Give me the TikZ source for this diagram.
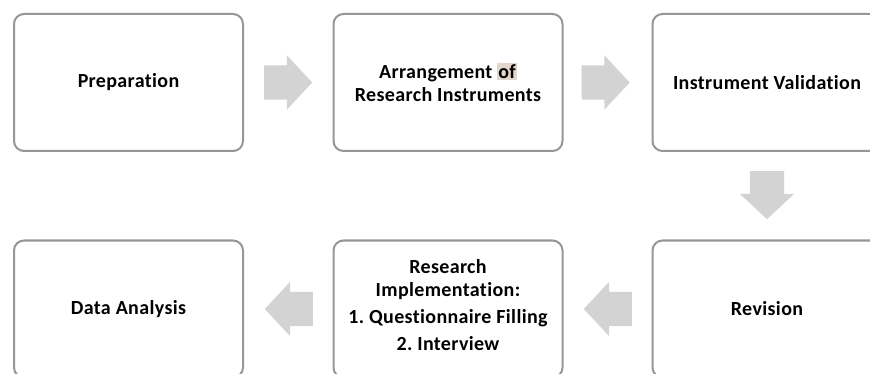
\documentclass[tikz,border=0pt]{standalone}
\usepackage{fontspec}
\setmainfont{Carlito}[Ligatures=NoCommon, LetterSpace=1.8]
\usepackage{xcolor}
\usetikzlibrary{shapes.arrows,positioning,calc}
\definecolor{boxline}{RGB}{150,150,150}
\definecolor{flowgray}{RGB}{211,211,211}
\definecolor{marked}{RGB}{228,214,204}
\setlength{\fboxsep}{1pt}

\tikzset{
  stage/.style={draw=boxline, line width=2pt, rounded corners=10pt, fill=white,
    minimum width=229pt, minimum height=137pt, align=center,
    font=\bfseries\fontsize{20}{23}\selectfont},
  flow/.style={single arrow, fill=flowgray, draw=none, anchor=tail,
    inner xsep=0pt, inner ysep=17pt,
    minimum height=48pt, single arrow head extend=10pt, single arrow tip angle=94},
  flowdown/.style={flow, shape border rotate=270, inner xsep=17pt, inner ysep=0pt}
}

\begin{document}
\begin{tikzpicture}[x=1pt,y=-1pt]
  \useasboundingbox (0,0) rectangle (870,374);
  \clip (0,0) rectangle (870,374);

  % top row
  \node[stage] (prep) at (128.5,82.5) {Preparation};
  \node[stage] (arrange) at (448,82.5) {Arrangement \colorbox{marked}{of}\\Research Instruments};
  \node[stage] (valid) at (767,82.5) {Instrument Validation};

  % bottom row
  \node[stage] (revise) at (767,309) {Revision};
  \node[stage, text depth=8pt] (implement) at (448,309) {Research\\Implementation:\\[4pt]1.\ Questionnaire Filling\\[4pt]2.\ Interview};
  \node[stage] (analysis) at (128.5,309) {Data Analysis};

  % block arrows
  \node[flow] (a1) at ([xshift=20pt]prep.east) {};
  \node[flow] (a2) at ([xshift=18pt]arrange.east) {};
  \node[flowdown] (a3) at ([yshift=-19pt]valid.south) {};
  \node[flow, shape border rotate=180] (a4) at ([xshift=-19.5pt]revise.west) {};
  \node[flow, shape border rotate=180] (a5) at ([xshift=-19.5pt]implement.west) {};
\end{tikzpicture}
\end{document}
